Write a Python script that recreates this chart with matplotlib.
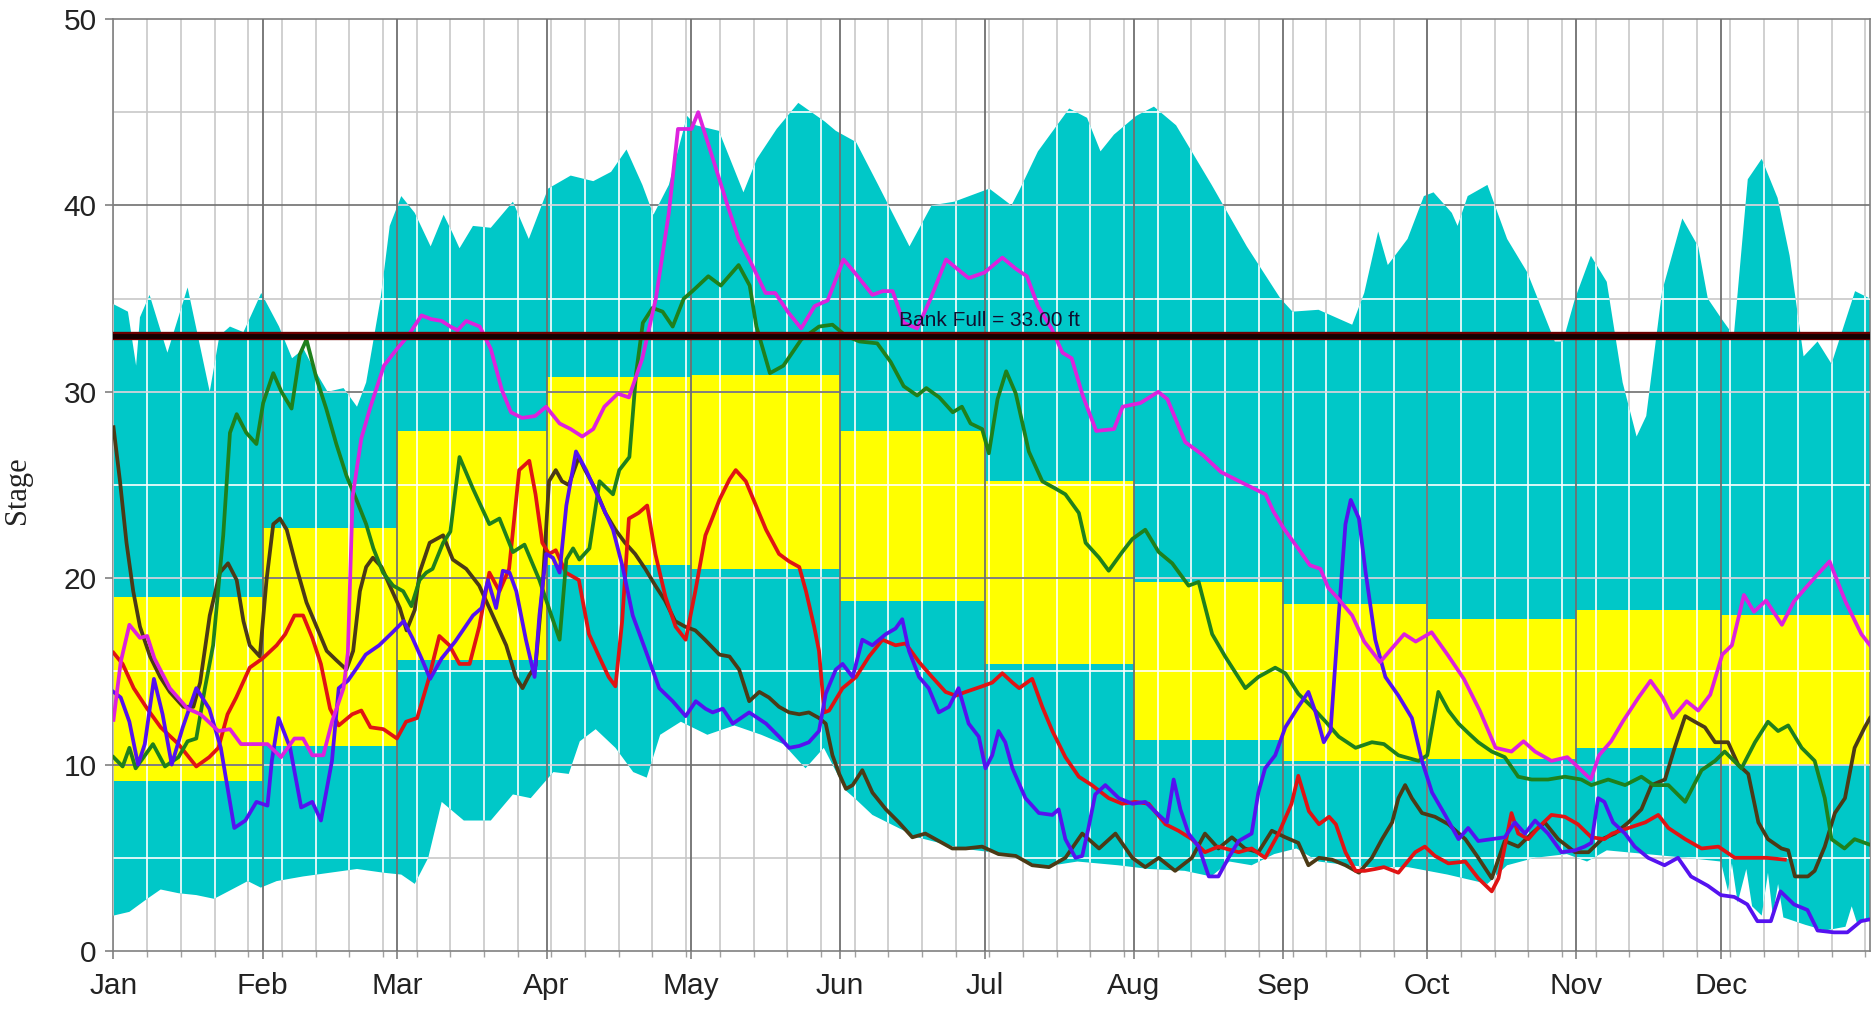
import numpy as np
import matplotlib
matplotlib.use('Agg')
import matplotlib.pyplot as plt
from matplotlib.patches import Rectangle

# ---- data (day of year, stage in ft) ----
month_names = ['Jan', 'Feb', 'Mar', 'Apr', 'May', 'Jun', 'Jul', 'Aug', 'Sep', 'Oct', 'Nov', 'Dec']
month_start = [0, 31, 59, 90, 120, 151, 181, 212, 243, 273, 304, 334, 365]

box_low = [9.1, 11.0, 15.6, 20.7, 20.5, 18.8, 15.4, 11.3, 10.2, 10.3, 10.9, 10.0]
box_high = [19.0, 22.7, 27.9, 30.8, 30.9, 27.9, 25.2, 19.8, 18.6, 17.8, 18.3, 18.0]

bank_full = 33.0

# max envelope
up_day = [0, 3, 4.7, 5.5, 7.5, 11.2, 15.4, 20, 22, 24.2, 27, 30.7, 34.4, 37.1, 39.5, 41.3,
          44.5, 47.8, 50.6, 52.5, 55.5, 57.4, 59.8, 62.6, 65.9, 68.6, 70.5, 71.9, 74.7, 78.4,
          83, 86.3, 90.3, 95, 99.7, 103.4, 106.6, 109.9, 112.2, 115.4, 119.2, 121, 125.8,
          130.9, 133.7, 137.8, 142.3, 147.8, 150.1, 154.3, 158.9, 165.4, 170, 174.7, 182,
          186.6, 188.4, 192.1, 198.6, 202.3, 205.1, 207.9, 212.5, 216.2, 220.8, 228.2, 235.5,
          242.5, 245, 250.4, 257.4, 259.9, 262.8, 264.8, 268.9, 272.3, 274.3, 278.1, 279.3,
          281.4, 285.5, 289.6, 293.8, 299.5, 301.2, 303.7, 307, 310.3, 313.6, 316.5, 318.5,
          321.8, 326, 329.3, 331.3, 334.2, 336.7, 339.6, 342.5, 345.8, 348.3, 351.2, 354.1,
          357, 361.9, 365]
up_val = [34.7, 34.3, 31.4, 34.0, 35.2, 32.1, 35.6, 30.0, 33.0, 33.5, 33.2, 35.3, 33.5, 31.8,
          32.3, 31.4, 30.0, 30.2, 29.2, 30.5, 35.0, 38.9, 40.5, 39.6, 37.8, 39.5, 38.5, 37.7,
          38.9, 38.8, 40.2, 38.2, 40.9, 41.6, 41.3, 41.8, 43.0, 41.1, 39.5, 41.1, 44.8, 44.3,
          44.0, 40.7, 42.5, 44.1, 45.5, 44.5, 44.0, 43.4, 41.1, 37.8, 40.0, 40.2, 40.9, 40.0,
          40.9, 42.9, 45.2, 44.7, 42.9, 43.8, 44.8, 45.3, 44.3, 41.1, 37.8, 35.0, 34.3, 34.4,
          33.6, 35.3, 38.6, 36.8, 38.2, 40.5, 40.7, 39.6, 38.9, 40.5, 41.1, 38.2, 36.4, 32.7,
          32.7, 35.0, 37.3, 35.9, 30.5, 27.6, 28.7, 35.4, 39.3, 37.8, 35.0, 33.9, 33.0, 41.4,
          42.5, 40.4, 37.3, 31.9, 32.7, 31.5, 35.4, 35.0]

# min envelope
low_day = [0, 3.3, 7, 9.8, 13.5, 17.2, 20.9, 24.6, 27.9, 30.6, 33.9, 39.4, 45, 50.6, 56.1,
           59.8, 62.6, 65.4, 68.2, 72.8, 78.4, 83, 86.7, 91.4, 94.6, 96.9, 100.2, 104.3, 108,
           110.8, 113.6, 117.9, 123.4, 129, 134.6, 139.2, 143.8, 147.6, 152.2, 154, 157.7, 167,
           176.2, 185.5, 192.9, 200.3, 208.7, 215.2, 222.6, 228.1, 231.9, 236.5, 241.2, 245.8,
           250.4, 256.8, 260.7, 269, 277.2, 285.5, 289.6, 295.4, 302, 306.2, 310.3, 318.5,
           326.8, 334, 335.5, 336.3, 337.5, 339.3, 340.5, 342.5, 343.8, 344.8, 345.9, 347,
           351.6, 355.7, 359.9, 361.2, 362.3, 365]
low_val = [1.9, 2.1, 2.8, 3.3, 3.1, 3.0, 2.8, 3.3, 3.75, 3.4, 3.75, 4.0, 4.2, 4.4, 4.2, 4.1,
           3.6, 5.0, 8.0, 7.0, 7.0, 8.4, 8.2, 9.6, 9.5, 11.25, 11.9, 10.9, 9.6, 9.3, 11.6, 12.3,
           11.6, 12.1, 11.6, 11.1, 9.8, 10.9, 8.6, 8.2, 7.3, 6.1, 5.5, 5.2, 4.5, 4.8, 4.6, 4.4,
           4.3, 4.0, 4.8, 4.6, 5.2, 5.5, 4.8, 4.6, 4.5, 4.5, 4.1, 3.6, 4.6, 5.0, 5.2, 4.8, 5.4,
           5.2, 5.0, 4.8, 3.2, 4.7, 2.6, 4.4, 2.4, 1.9, 4.2, 1.9, 3.6, 1.8, 1.4, 1.1, 1.3, 2.4,
           1.5, 1.8]

mag_day = [0, 1.5, 3.3, 5.5, 7, 8.5, 11.7, 15.4, 18.1, 21.8, 24.2, 26.5, 29.7, 32, 34.8, 37.6,
           39.4, 41.3, 43.6, 45.4, 47.8, 48.7, 49.7, 51.5, 53.4, 56.2, 58.9, 61.2, 64, 66, 68.2,
           70, 71.5, 73.3, 76.1, 78.4, 80.7, 82.6, 84.9, 87.6, 89.9, 92.7, 95, 97.4, 99.7, 102,
           104.8, 107.1, 109.9, 112.7, 115.4, 117.3, 120.1, 121.5, 124.3, 127.6, 129.9, 132.7,
           135.5, 137.5, 140.1, 142.9, 145.7, 148.4, 151.7, 154, 157.7, 159.8, 161.9, 164.2,
           167, 169.8, 173, 175.3, 177.7, 181, 184.7, 187.5, 189.8, 192.1, 194.9, 197.2, 199.1,
           201.4, 204.2, 207.9, 209.7, 213.4, 217.1, 219, 222.7, 226.4, 230.1, 234.7, 239.4,
           241, 243.1, 246.7, 248.6, 250.8, 252.4, 255, 257.4, 259.9, 263.2, 265.7, 268.2,
           270.6, 273.9, 277.2, 280.6, 283.9, 287.2, 290.5, 293, 295.4, 298.8, 302.1, 304.6,
           307, 308.7, 311.2, 313.6, 316.9, 319.4, 321.9, 324, 326.9, 329.3, 331.8, 334.3,
           336.3, 338.8, 340.9, 343.4, 346.7, 349.2, 351.7, 354.1, 356.6, 359.9, 363.2, 365]
mag_val = [12.4, 15.5, 17.5, 16.8, 16.9, 15.7, 14.1, 13.0, 12.7, 11.8, 11.9, 11.1, 11.1, 11.1,
           10.4, 11.4, 11.4, 10.5, 10.5, 12.3, 14.1, 16.0, 24.4, 27.5, 29.2, 31.4, 32.3, 33.0,
           34.1, 33.9, 33.8, 33.5, 33.3, 33.8, 33.5, 32.3, 30.1, 28.9, 28.6, 28.7, 29.2, 28.3,
           28.0, 27.6, 28.0, 29.2, 29.9, 29.7, 31.8, 35.0, 39.6, 44.1, 44.1, 45.0, 42.7, 40.0,
           38.2, 36.8, 35.3, 35.3, 34.3, 33.4, 34.6, 34.9, 37.1, 36.4, 35.2, 35.4, 35.4, 33.7,
           33.4, 35.0, 37.1, 36.6, 36.1, 36.4, 37.2, 36.6, 36.2, 34.6, 33.4, 32.1, 31.8, 29.8,
           27.9, 28.0, 29.2, 29.4, 30.0, 29.6, 27.3, 26.6, 25.7, 25.1, 24.5, 23.6, 22.7, 21.4,
           20.7, 20.5, 19.5, 18.75, 18.0, 16.6, 15.5, 16.25, 17.0, 16.6, 17.1, 15.9, 14.6, 12.9,
           10.9, 10.7, 11.25, 10.7, 10.2, 10.4, 9.8, 9.2, 10.5, 11.25, 12.3, 13.6, 14.5, 13.6,
           12.5, 13.4, 12.9, 13.75, 15.9, 16.4, 19.1, 18.2, 18.8, 17.5, 18.75, 19.5, 20.2, 20.9,
           18.75, 17.0, 16.4]

grn_day = [0, 1.9, 3.3, 4.6, 8.2, 10.7, 13.5, 15.4, 17.2, 19, 20.7, 22.8, 24.2, 25.6, 27.6,
           29.7, 31.1, 33.2, 34.9, 37, 38.7, 40.1, 42.2, 44.2, 46.3, 48.4, 50.5, 52.5, 54, 56,
           58.1, 60.2, 61.9, 63.6, 65, 66.3, 68.5, 70, 71.9, 74.7, 78.1, 80.2, 83, 85.4, 88.5,
           90.6, 92.7, 94.1, 95.5, 96.8, 98.9, 101, 103.8, 105.1, 107.2, 108.6, 110, 112,
           114.1, 116.2, 118.5, 120.3, 123.6, 126.2, 129.9, 132.2, 133.6, 136.4, 139.2, 142.9,
           146.6, 149.4, 152.2, 155, 158.7, 161.5, 164.2, 167, 168.9, 171.6, 174.4, 176.3,
           178.1, 180.5, 181.9, 183.7, 185.5, 187.5, 190.2, 193, 195.8, 197.8, 200.6, 202,
           204.8, 206.8, 209.6, 211.7, 214.4, 217.2, 220, 223.4, 225.5, 228.3, 231, 235.2,
           237.9, 241.4, 243.5, 246.2, 249, 251.9, 254.6, 258.1, 261.5, 264, 267, 271.2, 273,
           275.3, 277.4, 279.5, 281.5, 283.6, 286.4, 289.1, 291.9, 294.7, 298.1, 301.6, 305,
           307.1, 310.6, 314.1, 317.5, 320, 323.1, 326.6, 330, 332.8, 334.8, 338.3, 341.1,
           343.8, 345.9, 348, 350.8, 353.5, 355.6, 357, 359.7, 361.8, 365]
grn_val = [10.4, 9.9, 10.9, 9.8, 11.1, 9.9, 10.4, 11.25, 11.4, 14.1, 16.4, 22.3, 27.8, 28.8,
           27.8, 27.2, 29.4, 31.0, 30.0, 29.1, 32.0, 32.8, 30.7, 29.1, 27.2, 25.5, 24.2, 22.9,
           21.6, 20.3, 19.6, 19.3, 18.5, 19.9, 20.3, 20.5, 21.9, 22.5, 26.5, 24.8, 22.9, 23.2,
           21.4, 21.8, 19.9, 18.3, 16.7, 21.0, 21.6, 21.0, 21.6, 25.2, 24.5, 25.8, 26.5, 31.0,
           33.7, 34.5, 34.3, 33.5, 35.0, 35.4, 36.2, 35.7, 36.8, 35.7, 33.5, 31.0, 31.4, 32.8,
           33.5, 33.6, 33.0, 32.7, 32.6, 31.6, 30.3, 29.8, 30.2, 29.7, 28.9, 29.2, 28.3, 28.0,
           26.7, 29.6, 31.1, 29.9, 26.8, 25.2, 24.8, 24.5, 23.5, 21.9, 21.1, 20.4, 21.4, 22.1,
           22.6, 21.4, 20.8, 19.6, 19.8, 17.0, 15.8, 14.1, 14.7, 15.2, 14.9, 13.8, 13.1, 12.3,
           11.5, 10.9, 11.2, 11.1, 10.5, 10.2, 10.5, 13.9, 12.9, 12.2, 11.7, 11.2, 10.7, 10.4,
           9.35, 9.2, 9.2, 9.35, 9.2, 8.9, 9.2, 8.9, 9.35, 8.9, 8.9, 8.0, 9.7, 10.2, 10.7, 9.8,
           11.2, 12.3, 11.8, 12.1, 10.9, 10.2, 8.2, 6.0, 5.5, 6.0, 5.7]

red_day = [0, 1.9, 4.2, 7, 9.8, 13.5, 17.2, 19.9, 21.8, 23.7, 25.5, 28.3, 31, 33.9, 35.7,
           37.6, 39.4, 41.3, 43.1, 45, 46.8, 49.6, 51.5, 53.4, 56.1, 58.9, 60.8, 63.1, 65.4,
           67.7, 69.8, 71.9, 74, 76, 78.1, 80.2, 82.2, 84.3, 86.4, 87.7, 89.1, 90.5, 91.9, 94,
           96.7, 98.8, 100.9, 102.9, 104.3, 105.7, 107.1, 109.1, 110.9, 112.6, 114.7, 116.8,
           118.9, 120.9, 123, 124.4, 125.9, 128, 129.3, 131.4, 133.5, 135.6, 138.3, 140.4,
           142.5, 143.9, 145.6, 146.6, 147.7, 148.7, 151.5, 154.3, 157, 159.8, 162.5, 164.6,
           167.4, 170.1, 172.9, 175, 177.1, 180.5, 182.6, 184.7, 186.8, 188.2, 190.9, 193,
           195.1, 197.8, 200.6, 203.3, 206.8, 209.6, 212.3, 215.1, 218.6, 221.3, 224.1, 226.8,
           229.6, 233.8, 236.5, 239.3, 242.1, 244.8, 246.2, 248.4, 250.5, 252.6, 254, 256,
           258.1, 260, 262.2, 264, 267, 270.5, 272.5, 274.6, 277.4, 280.9, 283.6, 286.4, 287.8,
           289.1, 290.5, 291.9, 294, 296, 298.8, 301.6, 304.3, 307.1, 309.8, 311.4, 314.8,
           318.3, 321, 323.1, 326.6, 330, 333.5, 336.9, 340.4, 343.5, 347.3]
red_val = [16.0, 15.4, 14.1, 13.0, 12.0, 11.1, 9.9, 10.4, 10.9, 12.7, 13.6, 15.2, 15.7, 16.4,
           17.0, 18.0, 18.0, 16.8, 15.4, 13.0, 12.1, 12.7, 12.9, 12.0, 11.9, 11.4, 12.3, 12.5,
           14.5, 16.9, 16.4, 15.4, 15.4, 17.4, 20.3, 19.3, 20.5, 25.8, 26.3, 24.5, 21.9, 21.3,
           21.5, 20.3, 19.9, 17.0, 15.8, 14.7, 14.2, 17.7, 23.2, 23.5, 23.9, 21.3, 19.0, 17.4,
           16.7, 19.3, 22.3, 23.2, 24.2, 25.3, 25.8, 25.2, 23.9, 22.6, 21.3, 20.9, 20.6, 19.3,
           17.4, 16.1, 12.8, 12.9, 14.1, 14.7, 15.8, 16.7, 16.4, 16.5, 15.5, 14.7, 13.9, 13.7,
           13.9, 14.2, 14.4, 14.9, 14.4, 14.1, 14.6, 13.1, 11.8, 10.4, 9.35, 8.9, 8.2, 7.9, 8.0,
           7.9, 6.8, 6.45, 6.0, 5.3, 5.6, 5.3, 5.5, 5.0, 6.3, 7.9, 9.4, 7.5, 6.8, 7.2, 6.8, 5.3,
           4.3, 4.3, 4.4, 4.5, 4.2, 5.3, 5.6, 5.1, 4.7, 4.8, 3.9, 3.2, 3.9, 5.6, 7.4, 6.3, 6.0,
           6.6, 7.3, 7.2, 6.8, 6.1, 6.0, 6.3, 6.6, 6.9, 7.3, 6.6, 6.0, 5.5, 5.6, 5.0, 5.0, 5.0,
           4.9]

blu_day = [0, 1.5, 3.3, 5.1, 6.5, 8.4, 10.2, 12.1, 14.4, 17.2, 19.9, 22.3, 23.7, 25.1, 27.4,
           29.7, 32, 32.9, 34.3, 36.7, 39, 41.3, 43.1, 45.4, 46.8, 48.7, 50.6, 52.4, 55.2, 58,
           60.3, 62.1, 64, 65.8, 68.2, 71, 74.7, 76.5, 77.8, 79.5, 80.9, 82.3, 83.7, 85.7,
           87.5, 88.5, 89.9, 91.3, 92.7, 94.1, 96.1, 98.2, 101, 103.8, 105.8, 107.9, 110.6,
           113.4, 116.2, 118.9, 121, 123, 124.5, 126.6, 128.7, 132.1, 135.6, 138.3, 140.4,
           142.5, 144.5, 146.6, 148, 150.1, 151.5, 153.6, 155.6, 157.7, 160.5, 162.5, 163.9,
           165.3, 167.4, 169.4, 171.5, 173.6, 175.6, 177.7, 179.8, 181.2, 182.6, 183.9, 185.3,
           186.8, 189.5, 192.3, 195.1, 196.4, 197.8, 199.9, 201.3, 202.6, 204, 206.1, 208.9,
           211.7, 214.4, 217.2, 218.9, 220.3, 221.7, 223.4, 225.5, 227.6, 229.6, 231.7, 233.8,
           236.5, 237.9, 239.3, 241.4, 243.5, 246.2, 248.3, 249.8, 251.5, 252.9, 254.6, 256,
           257.1, 258.8, 260.2, 262.2, 264.3, 267, 269.8, 271.9, 274, 276.7, 279.5, 281.5,
           283.6, 286.4, 289.1, 291.2, 293.3, 295.4, 298.1, 300.9, 303.7, 305.7, 307.1, 308.5,
           309.8, 311.6, 314.1, 316.1, 318.9, 322.3, 325.1, 327.8, 331.3, 334, 336.8, 339.5,
           341.6, 344.4, 346.4, 349.2, 352, 354.1, 357.5, 360.3, 363.1, 365]
blu_val = [13.9, 13.6, 12.3, 10.0, 11.1, 14.6, 12.7, 10.0, 12.0, 14.1, 13.0, 10.9, 8.75, 6.6,
           7.0, 8.0, 7.8, 10.2, 12.5, 10.9, 7.7, 8.0, 7.0, 10.2, 14.1, 14.5, 15.2, 15.9, 16.4,
           17.1, 17.7, 16.8, 15.7, 14.6, 15.7, 16.6, 18.0, 18.4, 19.9, 18.4, 20.4, 20.3, 19.3,
           16.7, 14.7, 18.0, 21.3, 21.1, 20.3, 23.9, 26.8, 25.8, 24.2, 22.6, 20.6, 18.0, 16.1,
           14.1, 13.4, 12.6, 13.4, 13.0, 12.8, 13.0, 12.2, 12.8, 12.2, 11.5, 10.9, 11.0, 11.2,
           11.8, 13.8, 15.1, 15.4, 14.7, 16.7, 16.4, 17.0, 17.3, 17.8, 16.1, 14.7, 14.1, 12.8,
           13.1, 14.1, 12.2, 11.5, 9.8, 10.5, 11.8, 11.2, 9.8, 8.2, 7.4, 7.3, 7.6, 6.0, 5.0,
           5.1, 6.6, 8.4, 8.9, 8.2, 7.9, 8.0, 7.3, 6.9, 9.2, 7.6, 6.3, 5.6, 4.0, 4.0, 5.0, 5.9,
           6.3, 8.5, 9.8, 10.5, 12.0, 13.1, 13.9, 12.8, 11.2, 11.8, 18.0, 22.9, 24.2, 23.2,
           20.3, 16.7, 14.7, 13.7, 12.5, 10.2, 8.5, 7.3, 6.0, 6.6, 5.9, 6.0, 6.1, 6.9, 6.3, 7.0,
           6.3, 5.3, 5.4, 5.6, 5.8, 8.2, 8.0, 6.9, 6.3, 5.6, 5.0, 4.6, 5.0, 4.0, 3.5, 3.0, 2.9,
           2.5, 1.6, 1.6, 3.2, 2.5, 2.2, 1.1, 1.0, 1.0, 1.6, 1.7]

brn_day = [0, 1.35, 2.7, 4.1, 5.5, 7.6, 9.7, 11.7, 14.5, 16.6, 18, 20, 22.1, 23.8, 25.6, 27,
           28.3, 30.4, 31.8, 33.2, 34.6, 36, 38, 40.1, 42.2, 44.3, 46.3, 48.4, 49.8, 51.2,
           52.5, 53.9, 55.7, 57.4, 59.5, 60.9, 62.6, 63.6, 65.7, 68.5, 70.5, 73.3, 76, 78.8,
           81.6, 83.6, 85, 86.4, 87.7, 89.1, 90.5, 91.9, 93.2, 94.6, 96.7, 98, 100.1, 102.2,
           104.3, 106.3, 108.4, 110.5, 112.6, 114.6, 116.7, 118.8, 120.9, 122.9, 125.9, 128,
           130, 132.1, 134.2, 136.2, 138.3, 140.4, 142.5, 144.5, 146.6, 148, 149.4, 150.8,
           152.2, 153.6, 155.6, 157.7, 160.5, 163.2, 166, 168.7, 171.5, 174.3, 177.1, 180.5,
           183.9, 187.5, 190.9, 194.4, 197.8, 201.3, 204.8, 208.2, 211.7, 214.4, 217.2, 220.6,
           224.1, 226.8, 229.6, 232.4, 235.1, 237.9, 240.7, 243.5, 246.2, 248.3, 250.5, 253.2,
           256, 258.8, 261.5, 263.6, 265.7, 267, 268.4, 269.8, 271.9, 274.6, 277.4, 280.9,
           283.6, 286.4, 289.1, 291.9, 294.7, 297.4, 300.2, 303.7, 306.5, 309.3, 312, 314.8,
           317.5, 319.6, 322.4, 324.4, 326.6, 328.6, 330.7, 332.8, 335.5, 337.6, 339.7, 341.8,
           343.8, 346.6, 348, 349.4, 352.1, 353.5, 355.6, 357.7, 359.8, 361.8, 363.9, 365]
brn_val = [28.1, 25.2, 21.9, 19.3, 17.4, 15.8, 14.7, 13.9, 13.1, 13.1, 14.4, 18.0, 20.3, 20.8,
           19.9, 17.7, 16.4, 15.8, 19.9, 22.9, 23.2, 22.6, 20.6, 18.7, 17.4, 16.1, 15.6, 15.1,
           16.1, 19.3, 20.6, 21.1, 20.6, 19.6, 18.4, 17.2, 18.3, 20.3, 21.9, 22.3, 21.0, 20.5,
           19.6, 18.0, 16.4, 14.7, 14.1, 14.8, 15.3, 19.3, 25.2, 25.8, 25.2, 25.0, 26.5, 25.8,
           24.8, 23.5, 22.6, 21.9, 21.3, 20.5, 19.6, 18.8, 17.7, 17.4, 17.2, 16.7, 15.9, 15.8,
           15.1, 13.4, 13.9, 13.6, 13.1, 12.8, 12.7, 12.8, 12.5, 12.2, 10.5, 9.5, 8.7, 8.9, 9.7,
           8.5, 7.6, 6.9, 6.1, 6.3, 5.9, 5.5, 5.5, 5.6, 5.2, 5.1, 4.6, 4.5, 5.0, 6.3, 5.5, 6.3,
           5.0, 4.5, 5.0, 4.3, 5.0, 6.3, 5.5, 6.1, 5.5, 5.3, 6.45, 6.1, 5.8, 4.6, 5.0, 4.9, 4.6,
           4.2, 5.0, 6.0, 6.9, 8.2, 8.9, 8.2, 7.4, 7.2, 6.8, 6.0, 5.0, 3.9, 5.9, 5.6, 6.3, 6.9,
           6.0, 5.3, 5.3, 6.0, 6.3, 6.9, 7.6, 8.9, 9.2, 10.9, 12.6, 12.3, 12.0, 11.2, 11.2,
           10.0, 9.5, 6.9, 6.0, 5.5, 5.4, 4.0, 4.0, 4.3, 5.6, 7.4, 8.2, 10.9, 12.0, 12.5]

# ---- figure ----
fig = plt.figure(figsize=(18.74, 10.09), dpi=100)
ax = fig.add_axes([113.5 / 1874, 58 / 1009, 1756.5 / 1874, 932 / 1009])
ax.set_xlim(0, 365)
ax.set_ylim(0, 50)

week_days = np.arange(0, 365, 7)
grey_lt = '#c8c8c8'
grey_dk = '#707070'

# grid under the fills
for d in week_days:
    ax.axvline(d, color=grey_lt, lw=1.2, zorder=0.5)
for v in range(5, 50, 10):
    ax.axhline(v, color=grey_lt, lw=1.2, zorder=0.5)
for v in range(10, 50, 10):
    ax.axhline(v, color=grey_dk, lw=1.2, zorder=0.6)

# envelope of record
env = ax.fill(np.concatenate([up_day, low_day[::-1]]),
              np.concatenate([up_val, low_val[::-1]]),
              color='#00c8c8', lw=0, zorder=1)[0]

# monthly boxes
for i in range(12):
    ax.add_patch(Rectangle((month_start[i], box_low[i]),
                           month_start[i + 1] - month_start[i],
                           box_high[i] - box_low[i],
                           facecolor='#ffff00', edgecolor='none', zorder=2))

# grid drawn over the coloured areas
for d in week_days:
    l = ax.axvline(d, color='white', lw=1.2, zorder=3)
    l.set_clip_path(env)
for v in range(5, 50, 10):
    l = ax.axhline(v, color='white', lw=1.2, zorder=3)
    l.set_clip_path(env)
for v in range(10, 50, 10):
    l = ax.axhline(v, color='#e4d4dc', lw=1.2, zorder=3)
    l.set_clip_path(env)
for i in range(12):
    for v in range(10, 50, 10):
        if box_low[i] < v < box_high[i]:
            ax.plot([month_start[i], month_start[i + 1]], [v, v], color=grey_dk,
                    lw=1.2, zorder=3.1)
for d in month_start[1:-1]:
    ax.axvline(d, color=grey_dk, lw=1.3, zorder=3.2)

# traces
lw = 2.7
ax.plot(brn_day, brn_val, color='#4b3a16', lw=lw, zorder=4)
ax.plot(red_day, red_val, color='#e01414', lw=lw, zorder=4.1)
ax.plot(grn_day, grn_val, color='#1f801c', lw=lw, zorder=4.2)
ax.plot(blu_day, blu_val, color='#5512f0', lw=lw, zorder=4.3)
ax.plot(mag_day, mag_val, color='#dd22dd', lw=lw, zorder=4.4)

# bank full
ax.axhline(bank_full, color='#6a0000', lw=6, zorder=5)
ax.axhline(bank_full, color='#150000', lw=3.5, zorder=5.1)
ax.text(182, 33.3, 'Bank Full = 33.00 ft', ha='center', va='bottom', fontsize=15,
        color='#101030', family='Liberation Sans', zorder=6)

# axes cosmetics
for s in ax.spines.values():
    s.set_color('#808080')
    s.set_linewidth(1.2)
ax.set_xticks(month_start[:-1])
ax.set_xticklabels(month_names)
ax.set_xticks(week_days, minor=True)
ax.set_yticks(range(0, 51, 10))
ax.tick_params(axis='both', which='major', length=6, width=1.2, color='#808080',
               labelsize=21.5, labelcolor='#222222', pad=6)
ax.tick_params(axis='x', which='major', pad=9)
ax.tick_params(axis='x', which='minor', length=4, width=1, color='#a0a0a0')
for lab in ax.get_xticklabels() + ax.get_yticklabels():
    lab.set_family('Liberation Sans')

fig.text(18 / 1874, 1 - 490 / 1009, 'Stage', rotation=90, ha='center', va='center',
         fontsize=22, family='Liberation Serif', color='#222222')

fig.savefig('out.png', dpi=100)
